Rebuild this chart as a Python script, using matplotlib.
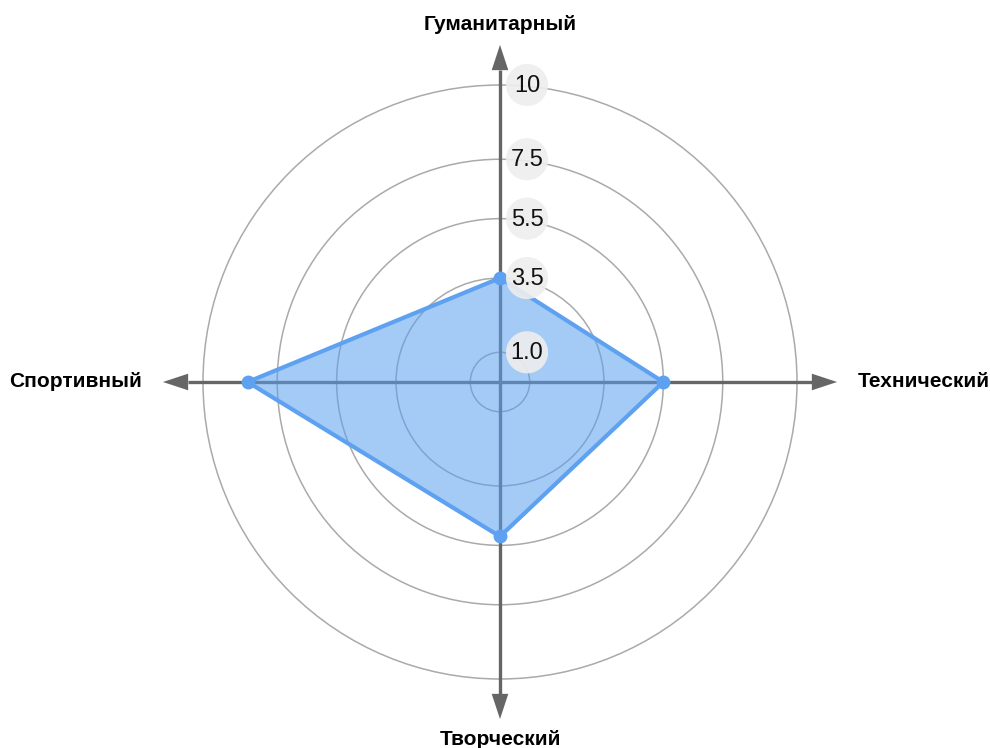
import numpy as np
import matplotlib.pyplot as plt
from matplotlib.patches import Circle, Polygon

# Оси диаграммы (сверху, по часовой стрелке)
categories = ['Гуманитарный', 'Технический', 'Творческий', 'Спортивный']
values = [3.5, 5.5, 5.2, 8.5]

# Уровни окружностей и подписи к ним
levels = [1.0, 3.5, 5.5, 7.5, 10]
level_labels = ['1.0', '3.5', '5.5', '7.5', '10']

axis_len = 11.35
label_off = 12.05
px = 29.7  # пикселей на единицу

fig = plt.figure(figsize=(9.9, 7.48), dpi=100)
ax = fig.add_axes([0, 0, 1, 1])
ax.set_xlim(-500 / px, 490 / px)
ax.set_ylim(-366 / px, 382 / px)
ax.set_aspect('equal')
ax.axis('off')

# окружности сетки
for r in levels:
    ax.add_patch(Circle((0, 0), r, fill=False, ec='#aaaaaa', lw=1.1, zorder=1))

# направления: вверх, вправо, вниз, влево
dirs = [(0, 1), (1, 0), (0, -1), (-1, 0)]
head_len = 0.85
head_w = 0.28
for (dx, dy) in dirs:
    base = axis_len - head_len
    ax.plot([0, dx * base], [0, dy * base], color='#666666', lw=2.4,
            solid_capstyle='butt', zorder=2)
    tip = (dx * axis_len, dy * axis_len)
    b1 = (dx * base - dy * head_w, dy * base + dx * head_w)
    b2 = (dx * base + dy * head_w, dy * base - dx * head_w)
    ax.add_patch(Polygon([tip, b1, b2], closed=True, fc='#666666', ec='none', zorder=2))

# подписи осей
fs = 15
ax.text(0, label_off, categories[0], ha='center', va='center',
        fontsize=fs, fontweight='bold', family='Liberation Sans')
ax.text(label_off, 0, categories[1], ha='left', va='center',
        fontsize=fs, fontweight='bold', family='Liberation Sans')
ax.text(0, -label_off, categories[2], ha='center', va='center',
        fontsize=fs, fontweight='bold', family='Liberation Sans')
ax.text(-label_off, 0, categories[3], ha='right', va='center',
        fontsize=fs, fontweight='bold', family='Liberation Sans')

# многоугольник данных
pts = np.array([(dx * v, dy * v) for (dx, dy), v in zip(dirs, values)])
ax.add_patch(Polygon(pts, closed=True, fc='#5a9ff0', alpha=0.55, ec='none', zorder=3))
ax.add_patch(Polygon(pts, closed=True, fill=False, ec='#5ea1f0', lw=3,
                     joinstyle='round', zorder=4))
ax.plot(pts[:, 0], pts[:, 1], 'o', color='#5ea1f0', ms=9, zorder=5)

# бейджи с уровнями
for r, lab in zip(levels, level_labels):
    ax.add_patch(Circle((0.91, r), 0.71, fc='#eeeeee', ec='none', alpha=0.9, zorder=6))
    ax.text(0.91, r - 0.03, lab, ha='center', va='center', fontsize=17,
            family='Liberation Sans', color='#111111', zorder=7)

fig.savefig('out.png', dpi=100)
